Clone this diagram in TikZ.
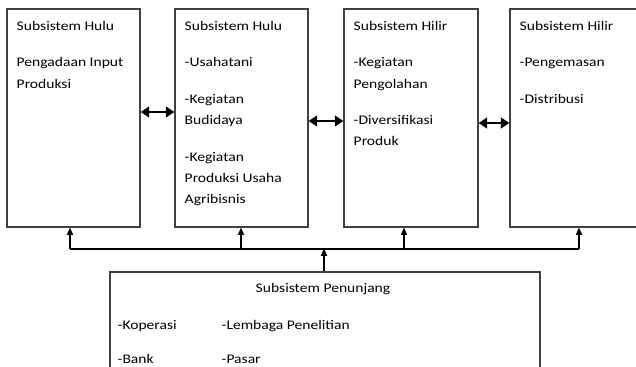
\documentclass[tikz,border=0pt]{standalone}
\usepackage{fontspec}
\setmainfont{Carlito}[FakeStretch=1.18]
\usetikzlibrary{arrows.meta,calc}

\begin{document}
\begin{tikzpicture}[x=0.75pt,y=0.75pt,
  font=\fontsize{9.9}{15.9}\selectfont,
  sysbox/.style={draw=black!75, line width=0.8pt, inner sep=0pt,
    minimum width=99.75pt, minimum height=163.5pt},
  boxtext/.style={anchor=north west, inner sep=0pt, align=left},
  itemtext/.style={anchor=base west, inner sep=0pt},
  uparrow/.style={-{Triangle[length=5.5pt,width=4.5pt]}, line width=1.1pt},
  linkarrow/.style={{Triangle[length=6.5pt,width=8pt]}-{Triangle[length=6.5pt,width=8pt]}, line width=2.2pt}]

\useasboundingbox (0,0) rectangle (636,367);
\clip (0,0) rectangle (636,367);

% Subsystem boxes
\node[sysbox] (hulu1) at (73.5,249) {};
\node[sysbox] (hulu2) at (241.5,249) {};
\node[sysbox, minimum width=100.5pt] (hilir1) at (411,249) {};
\node[sysbox] (hilir2) at (576.5,249) {};
\node[sysbox, minimum width=322.5pt, minimum height=82.5pt] (penunjang) at (325,40) {};

% Box texts
\node[boxtext] (huluText1) at ($(hulu1.north west)+(10,-12.5)$)
  {Subsistem Hulu\\[11.5pt]Pengadaan Input\\Produksi};
\node[boxtext] (huluText2) at ($(hulu2.north west)+(10,-12.5)$)
  {Subsistem Hulu\\[11.5pt]-Usahatani\\[11.5pt]-Kegiatan\\Budidaya\\[11.5pt]-Kegiatan\\Produksi Usaha\\Agribisnis};
\node[boxtext] (hilirText1) at ($(hilir1.north west)+(10,-12.5)$)
  {Subsistem Hilir\\[11.5pt]-Kegiatan\\Pengolahan\\[11.5pt]-Diversifikasi\\Produk};
\node[boxtext] (hilirText2) at ($(hilir2.north west)+(10,-12.5)$)
  {Subsistem Hilir\\[11.5pt]-Pengemasan\\[11.5pt]-Distribusi};

% Supporting subsystem
\node[anchor=base, inner sep=0pt] (penTitle) at ($(penunjang.north)+(-2,-21)$) {Subsistem Penunjang};
\node[itemtext] (koperasi) at ($(penunjang.north west)+(8,-58)$) {-Koperasi};
\node[itemtext] (lembaga) at ($(penunjang.north west)+(112,-58)$) {-Lembaga Penelitian};
\node[itemtext] (bank) at ($(penunjang.north west)+(8,-92)$) {-Bank};
\node[itemtext] (pasar) at ($(penunjang.north west)+(112,-92)$) {-Pasar};

% Links between neighbouring subsystems
\draw[linkarrow] ([yshift=4.5pt]hulu1.east) -- ([yshift=4.5pt]hulu2.west);
\draw[linkarrow] ([yshift=-2.25pt]hulu2.east) -- ([yshift=-2.25pt]hilir1.west);
\draw[linkarrow] ([yshift=-3.75pt]hilir1.east) -- ([yshift=-3.75pt]hilir2.west);

% Support bus
\coordinate (bus) at ($(penunjang.north)+(-1,23)$);
\coordinate (b1) at (70,118);
\coordinate (b2) at (241,118);
\coordinate (b3) at (404,118);
\coordinate (b4) at (579,118);
\draw[uparrow] (penunjang.north -| bus) -- (bus);
\draw[line width=1.1pt] (b1) -- (b4);
\foreach \b/\n in {b1/hulu1, b2/hulu2, b3/hilir1, b4/hilir2}
  \draw[uparrow] (\b) -- (\b |- \n.south);

\end{tikzpicture}
\end{document}
